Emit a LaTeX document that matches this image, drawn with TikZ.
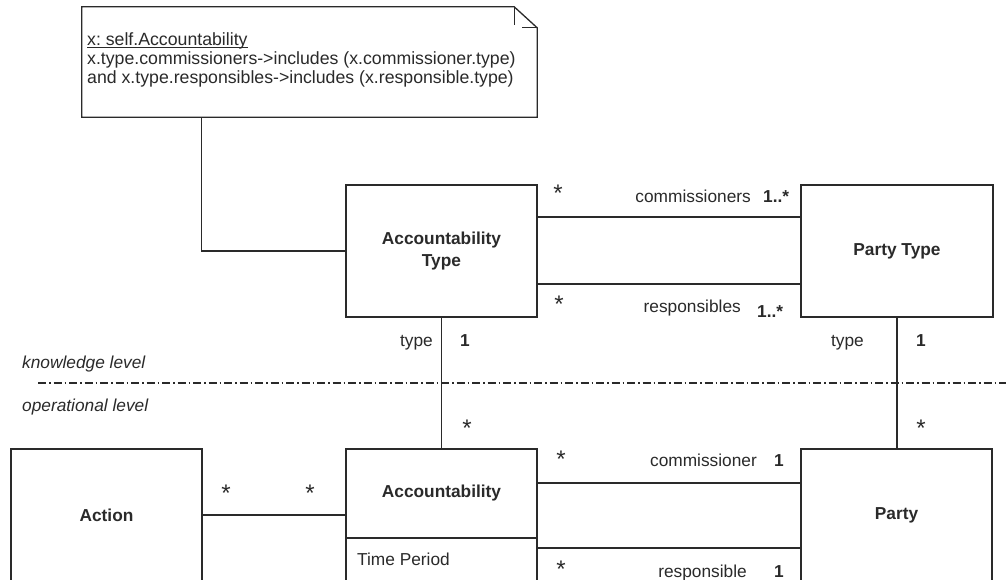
\documentclass[tikz,border=0pt]{standalone}
\usepackage{fontspec}
\setmainfont{Liberation Sans}
\frenchspacing
\definecolor{ink}{HTML}{2A2A2A}
\tikzset{
  cls/.style={draw=ink, line width=1.3pt, fill=white, inner sep=0pt, align=center, text=ink,
    font=\fontsize{17.3}{22}\selectfont\bfseries},
  notebox/.style={inner sep=0pt},
  wire/.style={draw=ink, line width=1.3pt},
  lbl/.style={inner sep=0pt, text=ink, font=\fontsize{17.3}{19}\selectfont},
  ntxt/.style={lbl, font=\fontsize{17.7}{19}\selectfont},
  blbl/.style={lbl, font=\fontsize{17.3}{19}\selectfont\bfseries},
  ilbl/.style={lbl, font=\fontsize{17.3}{19}\selectfont\itshape},
  star/.style={lbl, anchor=base, font=\fontsize{24}{24}\selectfont},
}
\begin{document}
\begin{tikzpicture}[x=1pt,y=-1pt]
\useasboundingbox (0,0) rectangle (1006,579);
\clip (0,0) rectangle (1006,579);
\fill[white] (0,0) rectangle (1006,579);

% note
\node[notebox, minimum width=455pt, minimum height=110pt] (note) at (309.5,62) {};
\draw[wire] (note.north west) -- ([xshift=-23pt]note.north east) -- ([yshift=-21pt]note.north east)
  -- (note.south east) -- (note.south west) -- cycle;
\draw[wire] ([xshift=-23pt]note.north east) -- ++(0,18);
\draw[wire] ([xshift=-15pt,yshift=-21pt]note.north east) -- ([yshift=-21pt]note.north east);
\node[ntxt, anchor=base west] (n1) at (87,45) {x: self.Accountability};
\draw[ink, line width=0.9pt] ([yshift=-2.5pt]n1.base west) -- ([yshift=-2.5pt]n1.base east);
\node[ntxt, anchor=base west, align=left] (n2) at (87,83) {x.type.commissioners->includes (x.commissioner.type)\\and x.type.responsibles->includes (x.responsible.type)};

% classes
\node[cls, minimum width=191pt, minimum height=132pt] (acctype) at (441.5,251) {Accountability\\Type};
\node[cls, minimum width=192pt, minimum height=132pt] (ptype) at (897,251) {Party Type};
\node[cls, minimum width=191pt, minimum height=132pt] (action) at (106.5,515) {Action};
\node[cls, minimum width=191pt, minimum height=89pt] (acc) at (441.5,493.5) {Accountability};
\node[cls, minimum width=191pt, minimum height=82pt] (accattr) at (441.5,579) {};
\node[lbl, anchor=base west] (tp) at (357,565) {Time Period};
\node[cls, minimum width=191pt, minimum height=132pt] (party) at (896.5,515) {Party};

% connectors
\draw[wire] ([xshift=120pt]note.south west) |- (acctype.west);
\draw[wire] ([yshift=34pt]acctype.east) -- ([yshift=34pt]acctype.east -| ptype.west);
\draw[wire] ([yshift=-33pt]acctype.east) -- ([yshift=-33pt]acctype.east -| ptype.west);
\draw[wire] (acctype.south) -- (acc.north);
\draw[wire] (ptype.south) -- (ptype.south |- party.north);
\draw[wire] (action.east) -- (action.east -| acc.west);
\draw[wire] ([yshift=32pt]party.west) -- ([yshift=32pt]party.west -| acc.east);
\draw[wire] ([yshift=-33pt]party.west) -- ([yshift=-33pt]party.west -| acc.east);

% level separator
\coordinate (sepL) at (38,383);
\coordinate (sepR) at (1006,383);
\draw[ink, line width=1.1pt, dash pattern=on 8pt off 3pt on 1.5pt off 3pt] (sepL) -- (sepR);
\node[ilbl, anchor=base west] (kl) at (22,368) {knowledge level};
\node[ilbl, anchor=base west] (ol) at (22,411) {operational level};

% association labels
\node[star] (s1) at (558,201) {*};
\node[lbl, anchor=base east] (lcomms) at (751,202) {commissioners};
\node[blbl, anchor=base west] (mcomms) at (763,202) {1..*};
\node[star] (s2) at (559,312) {*};
\node[lbl, anchor=base east] (lresps) at (741,312) {responsibles};
\node[blbl, anchor=base west] (mresps) at (757,317) {1..*};
\node[lbl, anchor=base east] (ltype1) at (433,346) {type};
\node[blbl, anchor=base west] (mtype1) at (460,346) {1};
\node[lbl, anchor=base east] (ltype2) at (864,346) {type};
\node[blbl, anchor=base west] (mtype2) at (916,346) {1};
\node[star] (s3) at (467,436) {*};
\node[star] (s4) at (921,436) {*};
\node[star] (s5) at (226,501) {*};
\node[star] (s6) at (310,501) {*};
\node[star] (s7) at (561,467) {*};
\node[lbl, anchor=base east] (lcomm) at (757,466) {commissioner};
\node[blbl, anchor=base west] (mcomm) at (774,466) {1};
\node[star] (s8) at (561,577) {*};
\node[lbl, anchor=base east] (lresp) at (747,577) {responsible};
\node[blbl, anchor=base west] (mresp) at (774,577) {1};
\end{tikzpicture}
\end{document}
